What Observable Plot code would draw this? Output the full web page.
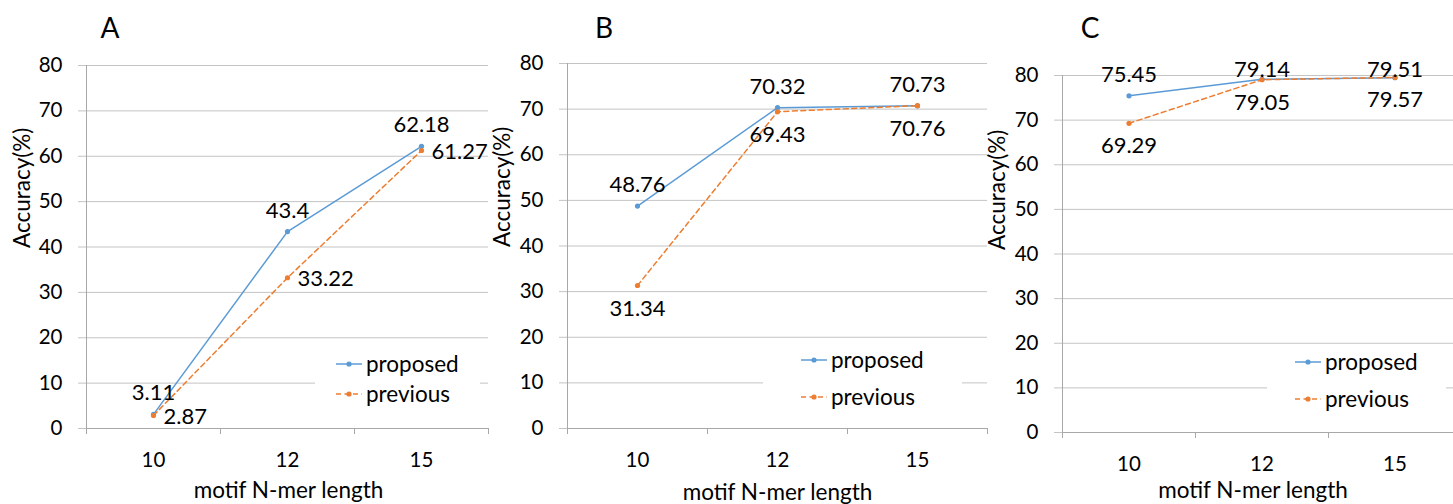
<!DOCTYPE html>
<html>
<head>
<meta charset="utf-8">
<script src="https://cdn.jsdelivr.net/npm/d3@7"></script>
<script src="https://cdn.jsdelivr.net/npm/@observablehq/plot@0.6"></script>
<style>
  html, body { margin: 0; padding: 0; background: #fff; }
  body { width: 1453px; height: 504px; overflow: hidden; position: relative;
         font-family: Lato, "Open Sans", sans-serif; color: #000; }
  .panel { position: absolute; top: 0; }
  .letter { position: absolute; top: 11px; font-size: 28px; line-height: 32px; transform: translateX(-50%); }
  .legend { position: absolute; background: #fff; font-size: 22.5px; }
  .legend .row { position: absolute; height: 24px; line-height: 24px; white-space: nowrap; }
  .legend svg { display: inline-block; vertical-align: top; }
  .legend span { display: inline-block; vertical-align: top; margin-left: 4px; }
</style>
</head>
<body>
<script>
// ---------------- data ----------------
const categories = ["10", "12", "15"];
const panelNames = ["A", "B", "C"];
const seriesNames = ["proposed", "previous"];
const proposedA = [3.11, 43.4, 62.18];
const previousA = [2.87, 33.22, 61.27];
const proposedB = [48.76, 70.32, 70.73];
const previousB = [31.34, 69.43, 70.76];
const proposedC = [75.45, 79.14, 79.51];
const previousC = [69.29, 79.05, 79.57];
const yTicks = [0, 10, 20, 30, 40, 50, 60, 70, 80];
const yLabel = "Accuracy(%)";
const xLabel = "motif N-mer length";

// ---------------- style / layout ----------------
const BLUE = "#5B9BD5", ORANGE = "#ED7D31";
const GRID = "#c4c4c4", AXIS = "#a8a8a8";
const FONT = "Lato, 'Open Sans', sans-serif";
const DASH = "5,3.5";
const labelCeiling = 76.6; // Excel keeps labels near the top of the chart area

const layouts = [
  { left: 0,   width: 490, mL: 86, mR: 2,  mT: 65, mB: 76, prevPlace: "right",
    yTitleDx: -64, yTitleDy: 1, xTitleDy: 62, xTitleDx: 1, letterX: 110,
    legend: { left: 315, top: 345, width: 165, height: 68, sw: 21, rows: [19, 49] } },
  { left: 490, width: 500, mL: 77, mR: 3,  mT: 63, mB: 76, prevPlace: "below",
    yTitleDx: -65, yTitleDy: 1, xTitleDy: 64, xTitleDx: 0, letterX: 604,
    legend: { left: 763, top: 342, width: 199, height: 73, sw: 38, rows: [18, 55] } },
  { left: 990, width: 471, mL: 72, mR: 0,  mT: 75, mB: 72, prevPlace: "below",
    yTitleDx: -65, yTitleDy: -4, xTitleDy: 58, xTitleDx: -9, letterX: 1090,
    legend: { left: 1267, top: 346, width: 179, height: 72, sw: 28, rows: [16, 53] } }
];
const panelData = [[proposedA, previousA], [proposedB, previousB], [proposedC, previousC]];

function makePanel(k) {
  const L = layouts[k];
  const [prop, prev] = panelData[k];
  const n = categories.length;
  const pRows = categories.map((c, i) => ({ i, cat: c, v: prop[i] }));
  const qRows = categories.map((c, i) => ({ i, cat: c, v: prev[i] }));
  const xc = d => d.i + 0.5;

  const prevLabelOpts = L.prevPlace === "right"
    ? { dx: 10, dy: 1, textAnchor: "start" }
    : { dy: 23 };

  const chart = Plot.plot({
    width: L.width, height: 504,
    marginLeft: L.mL, marginRight: L.mR, marginTop: L.mT, marginBottom: L.mB,
    style: { fontFamily: FONT, fontSize: "20px", color: "#000", background: "transparent", overflow: "visible" },
    x: { domain: [0, n], axis: null },
    y: { domain: [0, 80], axis: null },
    marks: [
      Plot.gridY(yTicks, { stroke: GRID, strokeOpacity: 1 }),
      Plot.axisY(yTicks, { tickSize: 8, tickPadding: 16, stroke: GRID, fill: "#000", fontSize: 20.5,
                           tickFormat: d => String(d), label: null }),
      Plot.ruleY([0], { stroke: AXIS }),
      Plot.ruleX([0], { stroke: AXIS }),
      Plot.axisX(d3.range(n + 1), { tickSize: 6, stroke: AXIS, tickFormat: () => "", label: null }),
      Plot.text(categories, { x: (d, i) => i + 0.5, frameAnchor: "bottom", dy: 32, text: d => d,
                              fontSize: 20.5, lineAnchor: "middle", fill: "#000" }),
      Plot.text([yLabel], { frameAnchor: "left", dx: L.yTitleDx, dy: L.yTitleDy, rotate: -90,
                            fontSize: 22.5, lineAnchor: "middle", fill: "#000" }),
      Plot.text([xLabel], { frameAnchor: "bottom", dx: L.xTitleDx, dy: L.xTitleDy,
                            fontSize: 22.5, lineAnchor: "middle", fill: "#000" }),
      // series
      Plot.line(pRows, { x: xc, y: "v", stroke: BLUE, strokeWidth: 1.5 }),
      Plot.dot(pRows, { x: xc, y: "v", r: 2.6, fill: BLUE, stroke: null }),
      Plot.line(qRows, { x: xc, y: "v", stroke: ORANGE, strokeWidth: 1.5, strokeDasharray: DASH }),
      Plot.dot(qRows, { x: xc, y: "v", r: 2.6, fill: ORANGE, stroke: null }),
      // data labels
      Plot.text(pRows, { x: xc, y: d => Math.min(d.v, labelCeiling), dy: -21, text: d => String(d.v),
                         fontSize: 22, lineAnchor: "middle", fill: "#000" }),
      Plot.text(qRows, { x: xc, y: "v", text: d => String(d.v), fontSize: 22, lineAnchor: "middle",
                         fill: "#000", ...prevLabelOpts })
    ]
  });
  chart.classList.add("panel");
  chart.style.left = L.left + "px";
  document.body.appendChild(chart);

  // panel letter
  const letter = document.createElement("div");
  letter.className = "letter";
  letter.style.left = L.letterX + "px";
  letter.textContent = panelNames[k];
  document.body.appendChild(letter);

  // legend
  const lg = L.legend;
  const box = document.createElement("div");
  box.className = "legend";
  Object.assign(box.style, { left: lg.left + "px", top: lg.top + "px", width: lg.width + "px", height: lg.height + "px" });
  seriesNames.forEach((name, j) => {
    const color = j === 0 ? BLUE : ORANGE;
    const dash = j === 0 ? "" : `stroke-dasharray="${DASH}"`;
    const row = document.createElement("div");
    row.className = "row";
    row.style.left = lg.sw + "px";
    row.style.top = (lg.rows[j] - 12) + "px";
    row.innerHTML = `<svg width="26" height="24"><line x1="0" x2="26" y1="12" y2="12" stroke="${color}" stroke-width="1.5" ${dash}/><circle cx="13" cy="12" r="2.6" fill="${color}"/></svg><span>${name}</span>`;
    box.appendChild(row);
  });
  document.body.appendChild(box);
}

layouts.forEach((_, k) => makePanel(k));
</script>
</body>
</html>
